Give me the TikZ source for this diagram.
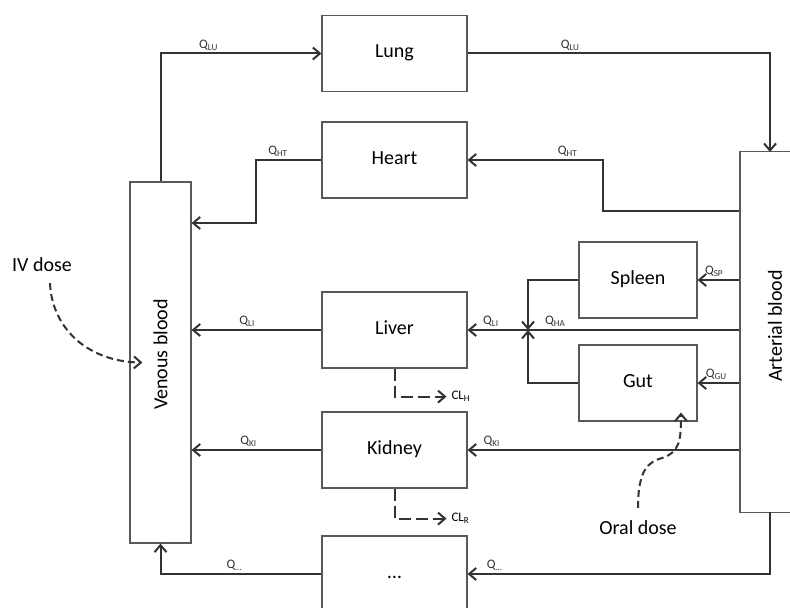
\documentclass[tikz,border=0pt]{standalone}
\usepackage{fontspec}
\setmainfont{Carlito}
\usetikzlibrary{arrows.meta}
\newcommand{\flowq}[1]{Q\textsubscript{#1}}

\begin{document}
\begin{tikzpicture}[x=0.5pt,y=-0.5pt,
    organ/.style={draw=black!65, line width=0.6pt, inner sep=0pt,
      minimum width=72.5pt, minimum height=38pt, text height=6.5pt, text depth=2pt,
      font=\fontsize{10}{12}\selectfont},
    blood/.style={organ, minimum width=30.5pt, minimum height=180.5pt},
    flow/.style={draw=black!80, line width=1pt, -{Straight Barb[length=3.5pt,width=6pt]}},
    qlab/.style={above, inner sep=1.2pt, text=black!80, font=\fontsize{6.5}{7}\selectfont},
    dose/.style={flow, dash pattern=on 3.5pt off 2pt},
    clear/.style={flow, dash pattern=on 6pt off 2.5pt},
  ]
  \clip (0,0) rectangle (790,608);

  % compartments
  \node[organ] (lung) at (394.5,53.5) {Lung};
  \node[organ] (heart) at (394.5,160) {Heart};
  \node[organ] (liver) at (394.5,330) {Liver};
  \node[organ] (kidney) at (394.5,450) {Kidney};
  \node[organ] (other) at (394.5,574) {\ldots};
  \node[organ, minimum width=59pt] (spleen) at (638,280) {Spleen};
  \node[organ, minimum width=59pt] (gut) at (638,383) {Gut};
  \node[blood, label={[rotate=90, xshift=4pt, font=\fontsize{10}{12}\selectfont]center:Venous blood}] (venous) at (160.5,362.5) {};
  \node[blood, minimum width=35pt, label={[rotate=90, xshift=3pt, font=\fontsize{10}{12}\selectfont]center:Arterial blood}] (arterial) at (775,332) {};

  \coordinate (artin) at (770,152);
  \coordinate (artout) at (770,512);
  \coordinate (htk) at (603,211);
  \coordinate (hvk) at (256,223);
  \coordinate (jn) at (528,330);

  % lung loop
  \draw[flow] (venous.north) |- node[qlab, pos=0.65] (qlu1) {\flowq{LU}} (lung.west);
  \draw[flow] (lung.east) -| node[qlab, pos=0.17] (qlu2) {\flowq{LU}} (artin);

  % heart
  \draw[flow] (htk -| arterial.west) -- (htk) |- node[qlab, pos=0.63] (qht2) {\flowq{HT}} (heart.east);
  \draw[flow] (heart.west) -| node[qlab, pos=0.33] (qht1) {\flowq{HT}} (hvk) -- (venous.east |- hvk);

  % spleen, gut, liver
  \draw[flow] (spleen.east -| arterial.west) -- node[qlab, pos=0.6] (qsp) {\flowq{SP}} (spleen.east);
  \draw[flow] (gut.east -| arterial.west) -- node[qlab, pos=0.55] (qgu) {\flowq{GU}} (gut.east);
  \draw[flow] (spleen.west) -| (jn);
  \draw[flow] (gut.west) -| (jn);
  \draw[flow, -] (jn -| arterial.west) -- node[qlab, pos=0.87] (qha) {\flowq{HA}} (jn);
  \draw[flow] (jn) -- node[qlab, pos=0.61] (qli2) {\flowq{LI}} (liver.east);
  \draw[flow] (liver.west) -- node[qlab, pos=0.57] (qli1) {\flowq{LI}} (venous.east |- liver.west);

  % kidney
  \draw[flow] (kidney.east -| arterial.west) -- node[qlab, pos=0.91] (qki2) {\flowq{KI}} (kidney.east);
  \draw[flow] (kidney.west) -- node[qlab, pos=0.56] (qki1) {\flowq{KI}} (venous.east |- kidney.west);

  % other tissues
  \draw[flow] (artout) -- (artout |- other.east) -- node[qlab, pos=0.91] (qot2) {\flowq{\ldots}} (other.east);
  \draw[flow] (other.west) -| node[qlab, pos=0.27] (qot1) {\flowq{\ldots}} (venous.south);

  % clearance
  \draw[clear] (liver.south) |- ++(52,28) node[right, inner sep=2pt, font=\fontsize{6.5}{7}\selectfont] (clh) {CL\textsubscript{H}};
  \draw[clear] (kidney.south) |- ++(52,30) node[right, inner sep=2pt, font=\fontsize{6.5}{7}\selectfont] (clr) {CL\textsubscript{R}};

  % dosing
  \node[font=\fontsize{10}{12}\selectfont] (ivdose) at (42,265) {IV dose};
  \node[font=\fontsize{10}{12}\selectfont] (oraldose) at (638,528) {Oral dose};
  \draw[dose] ([xshift=4pt, yshift=-2pt]ivdose.south) .. controls (52,330) and (90,362) .. ([xshift=6.5pt]venous.west);
  \draw[dose] ([yshift=3pt]oraldose.north) .. controls (638,470) and (648,462) .. (662,458)
    .. controls (680,452) and (681,440) .. ([xshift=21.5pt, yshift=4.5pt]gut.south);
\end{tikzpicture}
\end{document}
